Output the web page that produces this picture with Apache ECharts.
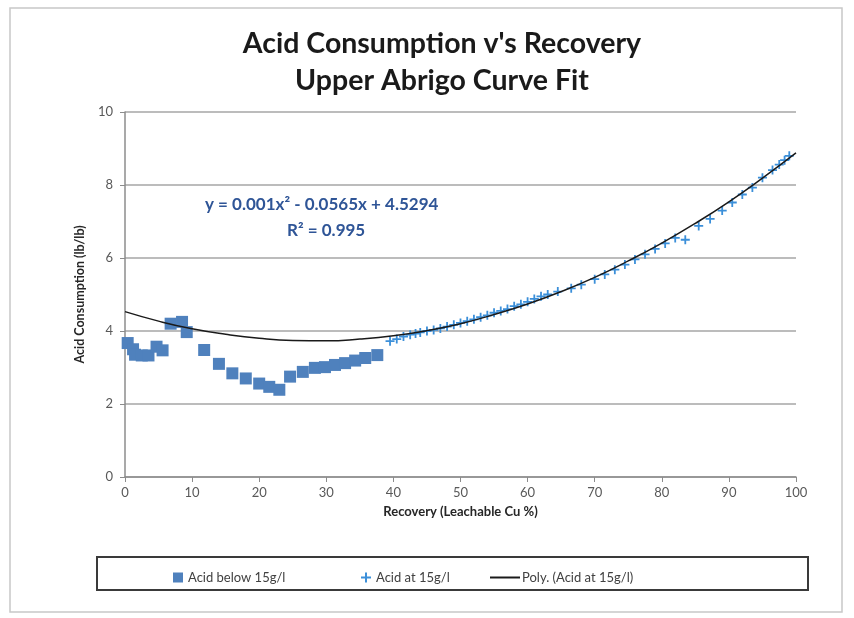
<!DOCTYPE html>
<html>
<head>
<meta charset="utf-8">
<script src="https://cdn.jsdelivr.net/npm/echarts@6/dist/echarts.min.js"></script>
<style>
html,body{margin:0;padding:0;background:#fff;}
#chart{width:854px;height:618px;}
</style>
</head>
<body>
<div id="chart"></div>
<script>
// Acid below 15 g/l (squares)
const belowX = [0.4,1.2,1.5,2.5,3.5,4.7,5.6,6.8,8.5,9.2,11.8,14,16,18,20,21.5,23,24.6,26.5,28.3,29.8,31.3,32.8,34.3,35.8,37.6];
const belowY = [3.67,3.5,3.35,3.33,3.33,3.57,3.47,4.2,4.25,3.97,3.48,3.1,2.84,2.7,2.56,2.47,2.39,2.75,2.88,2.99,3.01,3.07,3.12,3.19,3.26,3.34];
// Acid at 15 g/l (plus)
const atX = [39.5,40.5,41.5,42.5,43.3,44,45,46,47,48,49,50,51,52,53,54,55,56,57,58,59,60,61,62,63,64.5,66.5,68,70,71.5,73,74.5,76,77.5,79,80.5,82,83.5,85.5,87.2,89,90.5,92,93.5,95,96.5,97.5,98.3,99];
const atY = [3.72,3.78,3.85,3.9,3.93,3.96,4.0,4.03,4.07,4.12,4.17,4.22,4.27,4.32,4.38,4.43,4.5,4.55,4.6,4.68,4.73,4.8,4.88,4.95,5.0,5.08,5.17,5.27,5.42,5.55,5.68,5.82,5.96,6.1,6.25,6.4,6.55,6.5,6.88,7.07,7.3,7.52,7.74,7.93,8.2,8.41,8.56,8.68,8.8];
// Poly trendline
const polyX = [0,5,10,15,20,25,30,35,40,45,50,55,60,65,70,75,80,85,90,95,100];
const polyY = [4.53,4.27,4.06,3.91,3.80,3.74,3.73,3.78,3.87,4.01,4.20,4.45,4.74,5.08,5.47,5.92,6.41,6.95,7.54,8.19,8.88];
const xTicks = [0,10,20,30,40,50,60,70,80,90,100];
const yTicks = [0,2,4,6,8,10];
const titleLines = ["Acid Consumption v's Recovery", "Upper Abrigo Curve Fit"];
const equation = "y = 0.001x² - 0.0565x + 4.5294";
const rSquared = "R² = 0.995";
const seriesNames = ['Acid below 15g/l','Acid at 15g/l','Poly. (Acid at 15g/l)'];

const zip = (a,b)=>a.map((v,i)=>[v,b[i]]);
const FONT = 'Lato';
const plusPath = 'path://M4,0H6V4H10V6H6V10H4V6H0V4H4Z';

const chart = echarts.init(document.getElementById('chart'), null, {renderer:'canvas'});
chart.setOption({
  backgroundColor:'#ffffff',
  animation:false,
  textStyle:{fontFamily:FONT},
  title:{
    text: titleLines.join('\n'),
    left:437, textAlign:'center', top:20,
    textStyle:{fontFamily:FONT, fontWeight:'bold', fontSize:28.5, lineHeight:37, color:'#1a1a1a'}
  },
  grid:{left:125, right:58, top:112, bottom:141, containLabel:false},
  xAxis:{
    type:'value', min:0, max:100, interval:10,
    name:'Recovery (Leachable Cu %)', nameLocation:'middle', nameGap:28,
    nameTextStyle:{fontFamily:FONT, fontWeight:'bold', fontSize:13, color:'#262626'},
    axisLine:{show:true, onZero:false, lineStyle:{color:'#8c8c8c', width:1.5}},
    axisTick:{show:true, length:5, lineStyle:{color:'#8c8c8c'}},
    axisLabel:{color:'#595959', fontSize:13, margin:9, formatter:v=>xTicks.includes(v)?String(v):''},
    splitLine:{show:false}
  },
  yAxis:{
    type:'value', min:0, max:10, interval:2,
    name:'Acid Consumption (lb/lb)', nameLocation:'middle', nameGap:39,
    nameTextStyle:{fontFamily:FONT, fontWeight:'bold', fontSize:12.5, color:'#262626'},
    axisLine:{show:true, lineStyle:{color:'#8c8c8c', width:1.5}},
    axisTick:{show:true, length:5, lineStyle:{color:'#8c8c8c'}},
    axisLabel:{color:'#595959', fontSize:13, margin:12, formatter:v=>yTicks.includes(v)?String(v):''},
    splitLine:{show:true, lineStyle:{color:'#a6a6a6', width:1.5}}
  },
  legend:[
    {data:[{name:seriesNames[0], icon:'rect'}], left:168, top:566, itemWidth:10, itemHeight:10, itemGap:10,
     textStyle:{fontFamily:FONT, fontSize:13, color:'#404040'}},
    {data:[{name:seriesNames[1], icon:plusPath}], left:356, top:566, itemWidth:10, itemHeight:10,
     textStyle:{fontFamily:FONT, fontSize:13, color:'#404040'}},
    {data:[{name:seriesNames[2], icon:'path://M0,0H30V2H0Z'}], left:485, top:566, itemWidth:30, itemHeight:2, itemGap:2,
     textStyle:{fontFamily:FONT, fontSize:13, color:'#404040', padding:[0,0,0,-3]}}
  ],
  graphic:[
    {type:'rect', shape:{x:10, y:8, width:832, height:604}, style:{fill:'none', stroke:'#c8c8c8', lineWidth:1.5}, silent:true, z:-10},
    {type:'rect', shape:{x:97, y:557, width:711, height:33}, style:{fill:'none', stroke:'#3a3a3a', lineWidth:2}, silent:true},
    {type:'text', left:205, top:196, style:{text:equation, fontFamily:FONT, fontWeight:'bold', fontSize:17, fill:'#2f5597'}},
    {type:'text', left:287, top:222, style:{text:rSquared, fontFamily:FONT, fontWeight:'bold', fontSize:17, fill:'#2f5597'}}
  ],
  series:[
    {name:seriesNames[0], type:'scatter', data:zip(belowX,belowY), symbol:'rect', symbolSize:12,
     itemStyle:{color:'#4f81bd', opacity:1}, z:3},
    {name:seriesNames[1], type:'scatter', data:zip(atX,atY), symbol:plusPath, symbolSize:9,
     itemStyle:{color:'#3b8fd9', opacity:1}, z:4},
    {name:seriesNames[2], type:'line', data:zip(polyX,polyY), smooth:true, showSymbol:false, symbol:'none',
     lineStyle:{color:'#1a1a1a', width:1.5}, itemStyle:{color:'#1a1a1a'}, z:5}
  ]
});
</script>
</body>
</html>
